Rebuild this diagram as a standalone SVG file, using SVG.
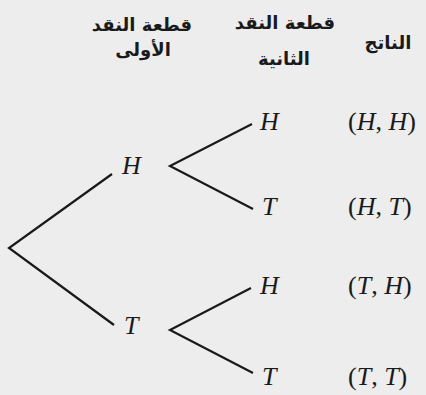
<svg xmlns="http://www.w3.org/2000/svg" width="426" height="395" viewBox="0 0 426 395">
<style>
.bg{fill:#ededee}
.ar{font-family:"DejaVu Sans",sans-serif;font-weight:bold;font-size:18px;fill:#1a1a1a;text-anchor:middle}
.m{font-family:"Liberation Serif",serif;font-size:26px;fill:#1a1a1a}
.i{font-style:italic}
.edge{stroke:#1a1a1a;stroke-width:2.2;fill:none}
</style>
<rect class="bg" x="0" y="0" width="426" height="395"/>
<g id="headers">
<text class="ar" x="142" y="31" direction="rtl">قطعة النقد</text>
<text class="ar" x="143" y="56" direction="rtl">الأولى</text>
<text class="ar" x="285" y="29" direction="rtl">قطعة النقد</text>
<text class="ar" x="284" y="65" direction="rtl">الثانية</text>
<text class="ar" x="388" y="49" direction="rtl">الناتج</text>
</g>
<g id="connectors">
<polyline class="edge" points="112,174 9,248 114,325"/>
<polyline class="edge" points="252,124 170,166 253,209"/>
<polyline class="edge" points="251,288 170,330 253,373"/>
</g>
<g id="node-H1"><text class="m i" x="122" y="174">H</text></g>
<g id="node-T1"><text class="m i" x="124" y="334">T</text></g>
<g id="node-HH"><text class="m i" x="260" y="130">H</text></g>
<g id="node-HT"><text class="m i" x="262" y="215">T</text></g>
<g id="node-TH"><text class="m i" x="260" y="294">H</text></g>
<g id="node-TT"><text class="m i" x="262" y="385">T</text></g>
<g id="outcomes">
<text class="m" x="348" y="130">(<tspan class="i">H</tspan>, <tspan class="i">H</tspan>)</text>
<text class="m" x="348" y="215">(<tspan class="i">H</tspan>, <tspan class="i">T</tspan>)</text>
<text class="m" x="348" y="294">(<tspan class="i">T</tspan>, <tspan class="i">H</tspan>)</text>
<text class="m" x="348" y="385">(<tspan class="i">T</tspan>, <tspan class="i">T</tspan>)</text>
</g>
</svg>
